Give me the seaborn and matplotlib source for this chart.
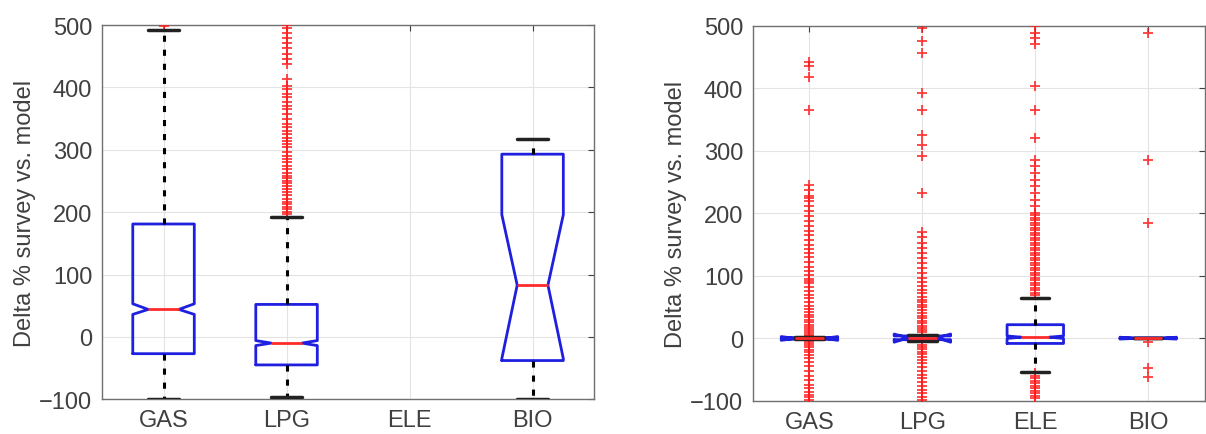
import numpy as np
import pandas as pd
from matplotlib import pyplot as plt
import seaborn as sns

sns.set_style('white')
plt.rcParams['font.family'] = ['Liberation Sans', 'DejaVu Sans']

FUELS = ['GAS', 'LPG', 'ELE', 'BIO']
YLABEL = 'Delta % survey vs. model'

# left panel: box stats per fuel (ELE has no box)
left_fuels = ['GAS', 'LPG', 'BIO']
left_whislo = [-100, -97, -100]
left_q1 = [-27, -45, -38]
left_med = [44, -10, 83]
left_q3 = [181, 52, 293]
left_whishi = [492, 193, 318]
left_cilo = [36, -14, -35]
left_cihi = [53, -6, 196]

left_out_gas = [499]
left_out_lpg = [500, 496, 488, 480, 472, 463, 453, 445, 437, 413, 402, 397, 390, 384,
                376, 370, 365, 357, 349, 342, 336, 330, 325, 319, 314, 309, 304, 297,
                290, 285, 280, 274, 269, 263, 258, 254, 250, 246, 242, 237, 232, 227,
                221, 217, 213, 209, 205, 201, 197]

# right panel
right_fuels = ['GAS', 'LPG', 'ELE', 'BIO']
right_whislo = [-1, -4, -53, 0]
right_q1 = [-1, -2, -8, 0]
right_med = [0, 1, 2, 0]
right_q3 = [1, 4, 22, 1]
right_whishi = [2, 6, 65, 1]
right_cilo = [-3, -6, 0, -1]
right_cihi = [3, 7, 4, 2]

right_out_gas = [442, 436, 418, 366, 246, 237, 228, 224, 220, 212, 204, 196, 188, 180,
                 172, 165, 158, 150, 143, 136, 130, 122, 115, 108, 101, 95, 92, 88, 82,
                 76, 70, 64, 58, 52, 47, 42, 38, 34, 30, 26, 22, 18, 15, 12, 9, 6, 4,
                 -4, -7, -10, -14, -18, -22, -27, -32, -38, -44, -52, -60, -66, -74,
                 -80, -86, -90, -94, -98]
right_out_lpg = [497, 476, 457, 393, 366, 326, 310, 292, 233, 171, 162, 152, 145, 137,
                 128, 120, 112, 104, 97, 90, 84, 78, 72, 66, 62, 58, 54, 50, 45, 40, 36,
                 32, 28, 24, 20, 16, 13, 10, -10, -13, -17, -21, -25, -30, -35, -40,
                 -46, -52, -58, -64, -70, -76, -82, -88, -93, -98]
right_out_ele = [500, 489, 481, 471, 404, 365, 321, 286, 276, 265, 254, 244, 233, 222,
                 212, 201, 197, 193, 189, 185, 181, 177, 173, 169, 165, 161, 157, 153,
                 149, 145, 141, 137, 133, 129, 125, 121, 117, 113, 109, 105, 101, 97, 93,
                 89, 85, 81, 77, 73, 69, -56, -60, -64, -68, -72, -76, -80, -84, -88,
                 -92, -96]
right_out_bio = [488, 286, 185, -5, -47, -61]

YTICKS = [-100, 0, 100, 200, 300, 400, 500]


def make_stats(whislo, q1, med, q3, whishi, cilo, cihi):
    stats = []
    for i in range(len(med)):
        stats.append(dict(whislo=whislo[i], q1=q1[i], med=med[i], q3=q3[i],
                          whishi=whishi[i], cilo=cilo[i], cihi=cihi[i], fliers=[]))
    return stats


def outlier_frame(groups):
    rows = []
    for fuel, vals in groups.items():
        for v in vals:
            rows.append({'x': FUELS.index(fuel) + 1, 'y': v})
    return pd.DataFrame(rows)


def draw_panel(ax, fuels, stats, outliers):
    ax.grid(True, color='#e3e3e3', linewidth=0.8)
    ax.set_axisbelow(True)
    df = outlier_frame(outliers)
    sns.scatterplot(data=df, x='x', y='y', ax=ax, marker='+', color='#ff1a1a',
                    s=45, linewidth=1.3, alpha=0.85, zorder=3)
    pos = [FUELS.index(f) + 1 for f in fuels]
    ax.bxp(stats, positions=pos, widths=0.5, shownotches=True, showfliers=False,
           boxprops=dict(color='#1f1fe0', linewidth=2),
           whiskerprops=dict(color='black', linewidth=2.2, linestyle=(0, (2, 2.6))),
           capprops=dict(color='#222222', linewidth=2.5),
           medianprops=dict(color='#ff2a2a', linewidth=2), zorder=4)
    ax.set_xlim(0.5, 4.5)
    ax.set_ylim(-100, 500)
    ax.set_xticks(range(1, 5))
    ax.set_xticklabels(FUELS)
    ax.set_yticks(YTICKS)
    ax.set_xlabel('')
    ax.set_ylabel(YLABEL, fontsize=17, color='#404040', labelpad=2)
    ax.tick_params(direction='in', length=4, top=True, right=True, labelsize=17,
                   colors='#404040', pad=7)
    for sp in ax.spines.values():
        sp.set_visible(True)
        sp.set_color('#707070')
        sp.set_linewidth(1.0)


fig = plt.figure(figsize=(12.06, 4.35), dpi=100)
ax1 = fig.add_axes([0.0846, 0.080, 0.408, 0.860])
ax2 = fig.add_axes([0.6244, 0.076, 0.3745, 0.862])

draw_panel(ax1, left_fuels,
           make_stats(left_whislo, left_q1, left_med, left_q3, left_whishi, left_cilo, left_cihi),
           {'GAS': left_out_gas, 'LPG': left_out_lpg})
draw_panel(ax2, right_fuels,
           make_stats(right_whislo, right_q1, right_med, right_q3, right_whishi, right_cilo, right_cihi),
           {'GAS': right_out_gas, 'LPG': right_out_lpg, 'ELE': right_out_ele, 'BIO': right_out_bio})

plt.savefig('out.png', dpi=100)
